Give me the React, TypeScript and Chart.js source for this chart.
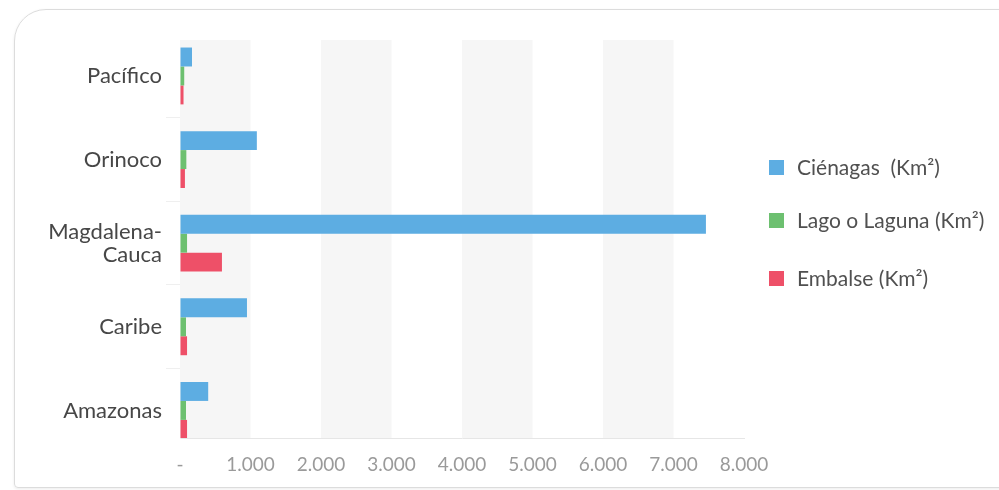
import React, { useEffect, useRef } from "react";
import { Chart, registerables } from "chart.js";

Chart.register(...registerables);

const categories: (string | string[])[] = ["Pacífico", "Orinoco", ["Magdalena-", "Cauca"], "Caribe", "Amazonas"];
const seriesNames = ["Ciénagas  (Km²)", "Lago o Laguna (Km²)", "Embalse (Km²)"];
const cienagas = [170, 1090, 7460, 950, 400];
const lagoLaguna = [60, 90, 100, 85, 85];
const embalse = [50, 70, 595, 100, 100];
const xTicks = [0, 1000, 2000, 3000, 4000, 5000, 6000, 7000, 8000];
const colors = ["#5DADE2", "#6DC070", "#EE5068"];

const fmt = (v: number) => (v === 0 ? "-" : String(v).replace(/\B(?=(\d{3})+(?!\d))/g, "."));
const toPoints = (arr: number[]) => arr.map((v, i) => ({ x: v, y: i }));

const bandsPlugin = {
  id: "bands",
  beforeDatasetsDraw(chart: any) {
    const { ctx, chartArea, scales } = chart;
    const x = scales.x;
    ctx.save();
    ctx.fillStyle = "#f6f6f6";
    for (let i = 0; i < xTicks.length - 1; i += 2) {
      const a = x.getPixelForValue(xTicks[i]);
      const b = x.getPixelForValue(xTicks[i + 1]);
      ctx.fillRect(a, chartArea.top, b - a, chartArea.bottom - chartArea.top);
    }
    ctx.restore();
  },
};

const legendPlugin = {
  id: "customLegend",
  afterDraw(chart: any) {
    const { ctx } = chart;
    const ys = [167, 220, 278];
    ctx.save();
    ctx.font = "21px Lato";
    ctx.textBaseline = "middle";
    ctx.textAlign = "left";
    chart.data.datasets.forEach((ds: any, i: number) => {
      ctx.fillStyle = ds.backgroundColor;
      ctx.fillRect(769, ys[i] - 7, 15, 15);
      ctx.fillStyle = "#505050";
      ctx.fillText(ds.label, 797, ys[i] + 1);
    });
    ctx.restore();
  },
};

export default function App() {
  const ref = useRef<HTMLCanvasElement>(null);
  useEffect(() => {
    const chart = new Chart(ref.current!, {
      type: "bar",
      data: {
        datasets: [
          { label: seriesNames[0], data: toPoints(cienagas), backgroundColor: colors[0] },
          { label: seriesNames[1], data: toPoints(lagoLaguna), backgroundColor: colors[1] },
          { label: seriesNames[2], data: toPoints(embalse), backgroundColor: colors[2] },
        ],
      },
      options: {
        indexAxis: "y",
        responsive: false,
        animation: false,
        datasets: { bar: { categoryPercentage: 0.68, barPercentage: 1.0 } },
        layout: { padding: { left: 0, top: 40, right: 255, bottom: 0 } },
        plugins: { legend: { display: false }, tooltip: { enabled: false } },
        scales: {
          x: {
            type: "linear",
            min: 0,
            max: 8000,
            afterBuildTicks: (s: any) => {
              s.ticks = xTicks.map((v) => ({ value: v }));
            },
            afterFit: (s: any) => {
              s.height = 52;
            },
            grid: { display: true, drawOnChartArea: false, drawTicks: false },
            border: { display: true, color: "#e6e6e6" },
            ticks: {
              padding: 15,
              color: "#9a9a9a",
              font: { family: "Lato", size: 19 },
              callback: (v: any) => fmt(Number(v)),
              maxRotation: 0,
            },
          },
          y: {
            type: "linear",
            reverse: true,
            offset: false,
            bounds: "data",
            min: -0.43,
            max: 4.33,
            afterBuildTicks: (s: any) => {
              s.ticks = categories.map((_, i) => ({ value: i }));
            },
            afterFit: (s: any) => {
              s.width = 180;
            },
            grid: { display: true, offset: true, drawOnChartArea: false, drawTicks: true, tickLength: 14, color: "#efefef" },
            border: { display: true, color: "#f2f2f2" },
            ticks: {
              padding: 4,
              color: "#474747",
              font: { family: "Lato", size: 22, lineHeight: 1.05 },
              callback: (v: any) => categories[Number(v)] as any,
            },
          },
        },
      },
      plugins: [bandsPlugin, legendPlugin],
    });
    return () => chart.destroy();
  }, []);
  return (
    <div style={{ position: "fixed", left: 0, top: 0, width: 999, height: 490, overflow: "hidden", background: "#fff" }}>
      <div
        style={{
          position: "absolute",
          left: 14,
          top: 9,
          width: 1060,
          height: 479,
          boxSizing: "border-box",
          border: "1px solid #dcdcdc",
          borderRadius: "32px 32px 4px 4px",
          boxShadow: "0 1px 3px rgba(0,0,0,0.08)",
        }}
      />
      <canvas ref={ref} width={999} height={490} style={{ position: "absolute", left: 0, top: 0, width: 999, height: 490 }} />
    </div>
  );
}
